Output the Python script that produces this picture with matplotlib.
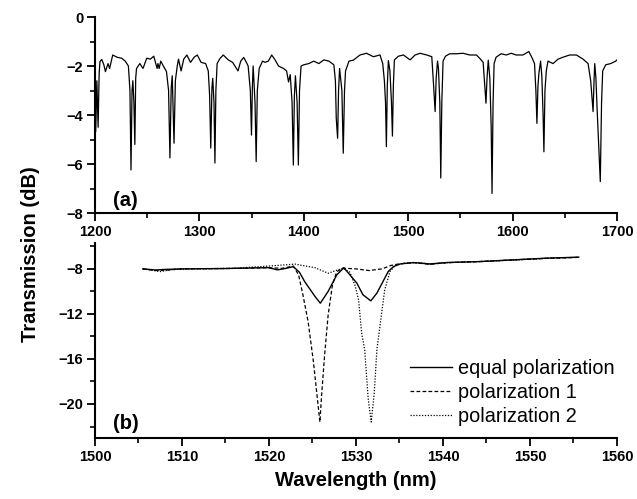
import matplotlib
matplotlib.use("Agg")
import matplotlib.pyplot as plt
from matplotlib.ticker import MultipleLocator

plt.rcParams['font.family'] = ['Liberation Sans', 'DejaVu Sans']

# ---------------- panel (a): broadband transmission ----------------
wl_a = [1200.0, 1200.7, 1201.8, 1203.0, 1204.0, 1204.8, 1206.5, 1208.5, 1210.0, 1212.5,
        1214.0, 1217.0, 1221.0, 1225.5, 1229.0, 1232.0, 1233.5, 1234.5, 1235.5, 1236.3,
        1237.3, 1238.2, 1239.0, 1239.8, 1243.0, 1246.0, 1249.6, 1253.0, 1256.3, 1259.5,
        1260.3, 1261.5, 1263.0, 1265.5, 1268.5, 1270.5, 1271.8, 1273.0, 1274.0, 1275.7,
        1277.0, 1278.8, 1280.0, 1282.5, 1285.0, 1288.0, 1291.5, 1295.0, 1298.0, 1301.6,
        1306.0, 1308.5, 1309.8, 1310.9, 1312.0, 1312.8, 1314.0, 1314.9, 1315.8, 1317.0,
        1319.6, 1322.9, 1327.7, 1331.8, 1334.0, 1337.0, 1339.6, 1342.5, 1345.0, 1346.7,
        1348.8, 1349.9, 1350.8, 1351.5, 1353.3, 1354.4, 1355.5, 1357.3, 1360.5, 1363.0,
        1366.0, 1369.3, 1372.5, 1375.8, 1380.6, 1383.5, 1385.4, 1387.0, 1388.8, 1390.0,
        1391.0, 1392.0, 1393.6, 1394.8, 1395.9, 1397.4, 1400.0, 1404.8, 1409.6, 1414.4,
        1419.2, 1424.0, 1428.8, 1430.3, 1431.1, 1432.4, 1433.3, 1434.3, 1436.5, 1437.8,
        1439.0, 1440.0, 1443.3, 1447.5, 1453.8, 1460.2, 1466.6, 1473.0, 1475.6, 1477.2,
        1478.3, 1479.1, 1480.0, 1481.0, 1482.5, 1484.0, 1484.9, 1485.8, 1486.8, 1490.6,
        1495.4, 1501.8, 1506.6, 1511.4, 1517.8, 1522.6, 1524.2, 1525.8, 1526.8, 1528.1,
        1529.0, 1530.3, 1531.2, 1532.2, 1533.4, 1535.7, 1539.8, 1546.2, 1552.6, 1559.0,
        1565.4, 1568.8, 1571.8, 1573.6, 1574.5, 1575.5, 1576.7, 1578.2, 1579.5, 1580.3,
        1581.3, 1582.3, 1584.2, 1589.0, 1594.0, 1598.6, 1603.4, 1609.8, 1615.6, 1618.8,
        1621.0, 1622.3, 1623.3, 1624.3, 1625.2, 1626.8, 1628.0, 1629.2, 1630.0, 1631.0,
        1632.3, 1633.9, 1638.7, 1643.5, 1648.3, 1654.7, 1661.1, 1667.5, 1672.3, 1674.8,
        1677.1, 1678.0, 1678.7, 1679.8, 1681.0, 1684.0, 1685.2, 1686.3, 1689.2, 1694.0,
        1698.8, 1699.7]
tr_a = [-2.40, -4.68, -2.60, -4.50, -2.30, -1.82, -1.73, -1.95, -2.23, -1.90,
        -2.10, -1.55, -1.64, -1.68, -1.80, -2.00, -3.00, -6.24, -3.00, -2.60,
        -3.50, -5.20, -2.50, -2.10, -1.90, -2.10, -1.68, -1.72, -1.60, -2.10,
        -1.90, -2.10, -1.80, -2.00, -2.23, -3.00, -5.75, -2.90, -2.40, -5.15,
        -2.60, -2.00, -1.72, -2.20, -1.72, -1.55, -1.85, -1.64, -1.55, -1.85,
        -1.90, -2.20, -3.20, -5.35, -2.90, -2.50, -3.50, -5.96, -3.00, -1.90,
        -1.70, -1.55, -1.75, -1.85, -2.00, -2.20, -1.80, -1.65, -1.85, -2.00,
        -3.00, -4.82, -2.80, -2.00, -3.50, -5.90, -3.00, -2.10, -1.80, -1.85,
        -1.80, -1.55, -1.75, -2.00, -2.10, -2.20, -2.65, -2.35, -3.50, -6.04,
        -3.20, -2.40, -3.50, -6.04, -3.00, -2.00, -1.95, -1.90, -1.80, -1.90,
        -1.75, -1.80, -1.95, -2.60, -4.13, -4.95, -3.00, -2.10, -3.00, -5.56,
        -3.00, -2.20, -1.80, -1.76, -1.55, -1.48, -1.62, -1.55, -1.90, -2.60,
        -3.50, -5.29, -2.80, -1.78, -2.20, -3.50, -4.86, -2.80, -1.75, -1.60,
        -1.55, -1.75, -1.55, -1.48, -1.55, -1.62, -2.70, -3.86, -2.50, -1.80,
        -2.10, -3.50, -6.57, -3.50, -1.80, -1.60, -1.50, -1.50, -1.48, -1.55,
        -1.55, -1.70, -1.85, -3.00, -3.52, -2.50, -1.76, -2.50, -4.50, -7.20,
        -3.50, -1.90, -1.64, -1.50, -1.55, -1.48, -1.55, -1.55, -1.41, -1.68,
        -1.90, -3.00, -4.34, -2.80, -2.30, -1.80, -2.40, -4.00, -5.50, -3.00,
        -2.20, -1.80, -1.90, -1.72, -1.64, -1.55, -1.55, -1.72, -1.90, -2.60,
        -3.86, -2.60, -1.90, -2.50, -3.80, -6.72, -3.50, -2.20, -1.95, -1.90,
        -1.80, -1.76]

# ---------------- panel (b): zoom around 1530 nm ----------------
wl_eq = [1505.5, 1507.0, 1508.0, 1510.0, 1515.0, 1519.9, 1521.0, 1522.0, 1522.8, 1523.5,
         1524.1, 1525.3, 1525.9, 1526.8, 1527.8, 1528.6, 1529.3, 1530.1, 1530.8, 1531.7,
         1532.4, 1533.1, 1533.7, 1534.3, 1535.1, 1536.6, 1538.5, 1540.4, 1544.3, 1548.1,
         1551.9, 1555.6]
tr_eq = [-8.00, -8.10, -8.05, -8.00, -7.97, -7.89, -8.09, -7.95, -7.80, -8.30,
         -9.13, -10.46, -11.05, -10.00, -8.53, -7.90, -8.53, -9.27, -10.30, -10.84,
         -10.16, -9.13, -8.24, -7.80, -7.56, -7.44, -7.56, -7.44, -7.35, -7.20,
         -7.05, -6.96]

wl_p1 = [1505.5, 1507.0, 1508.5, 1510.0, 1515.0, 1520.0, 1521.5, 1522.8, 1523.4, 1523.9,
         1524.5, 1525.1, 1525.6, 1525.85, 1526.05, 1526.4, 1526.8, 1527.3, 1527.8, 1528.5,
         1530.0, 1531.5, 1533.0, 1534.0, 1535.0, 1536.6, 1538.5, 1540.4, 1544.3, 1548.1,
         1551.9, 1555.6]
tr_p1 = [-8.00, -8.15, -8.10, -8.00, -7.97, -7.90, -7.95, -7.75, -8.53, -10.30,
         -12.70, -16.20, -19.80, -21.60, -19.20, -15.60, -12.10, -9.40, -8.24, -7.94,
         -8.00, -8.15, -8.00, -7.70, -7.55, -7.44, -7.60, -7.45, -7.35, -7.20,
         -7.07, -6.98]

wl_p2 = [1505.5, 1507.5, 1509.0, 1512.0, 1516.0, 1520.0, 1523.0, 1525.3, 1526.8, 1527.5,
         1528.5, 1529.3, 1529.9, 1530.3, 1530.65, 1531.0, 1531.4, 1531.75, 1532.1, 1532.4,
         1532.8, 1533.3, 1533.9, 1534.5, 1535.5, 1537.0, 1538.5, 1540.4, 1544.3, 1548.1,
         1551.9, 1555.6]
tr_p2 = [-8.00, -8.24, -8.05, -8.00, -7.95, -7.75, -7.58, -7.90, -8.39, -8.20,
         -7.94, -8.30, -9.50, -10.76, -13.70, -15.20, -19.50, -21.60, -19.00, -15.20,
         -12.80, -9.87, -8.24, -7.70, -7.50, -7.45, -7.58, -7.45, -7.35, -7.22,
         -7.06, -6.97]

legend_labels = ["equal polarization", "polarization 1", "polarization 2"]

fig = plt.figure(figsize=(6.37, 4.99), dpi=100)
ax_a = fig.add_axes([0.1491, 0.5731, 0.8195, 0.3928])
ax_b = fig.add_axes([0.1491, 0.1227, 0.8195, 0.3904])

ax_a.plot(wl_a, tr_a, color='black', lw=0.9)
ax_a.set_xlim(1200, 1700)
ax_a.set_ylim(-8, 0)
ax_a.xaxis.set_major_locator(MultipleLocator(100))
ax_a.xaxis.set_minor_locator(MultipleLocator(50))
ax_a.yaxis.set_major_locator(MultipleLocator(2))
ax_a.yaxis.set_minor_locator(MultipleLocator(1))
ax_a.text(0.034, 0.066, "(a)", transform=ax_a.transAxes, fontsize=14.5,
          fontweight='bold', va='center', ha='left')

l1, = ax_b.plot(wl_eq, tr_eq, color='black', lw=1.0, ls='-')
l2, = ax_b.plot(wl_p1, tr_p1, color='black', lw=0.9, ls=(0, (3.0, 1.8)))
l3, = ax_b.plot(wl_p2, tr_p2, color='black', lw=0.9, ls=(0, (1.0, 1.3)))
ax_b.set_xlim(1500, 1560)
ax_b.set_ylim(-23, -5.7)
ax_b.xaxis.set_major_locator(MultipleLocator(10))
ax_b.xaxis.set_minor_locator(MultipleLocator(5))
ax_b.yaxis.set_major_locator(MultipleLocator(4))
ax_b.yaxis.set_minor_locator(MultipleLocator(2))
ax_b.set_yticks([-8, -12, -16, -20])
ax_b.text(0.034, 0.073, "(b)", transform=ax_b.transAxes, fontsize=14.5,
          fontweight='bold', va='center', ha='left')

leg = ax_b.legend([l1, l2, l3], legend_labels, loc='upper left',
                  bbox_to_anchor=(0.603, 0.405), frameon=False, fontsize=14.3,
                  handlelength=2.15, handletextpad=0.3, labelspacing=0.25,
                  borderpad=0, borderaxespad=0)

for ax in (ax_a, ax_b):
    for s in ('top', 'right'):
        ax.spines[s].set_visible(False)
    for s in ('left', 'bottom'):
        ax.spines[s].set_linewidth(1.5)
    ax.tick_params(which='major', direction='out', length=6, width=1.3,
                   labelsize=10.5, pad=2.5)
    ax.tick_params(which='minor', direction='out', length=3.5, width=1.2)
    for lab in ax.get_xticklabels() + ax.get_yticklabels():
        lab.set_fontweight('bold')

fig.text(0.048, 0.49, "Transmission (dB)", rotation=90, fontsize=14.5,
         fontweight='bold', va='center', ha='center')
fig.text(0.5585, 0.038, "Wavelength (nm)", fontsize=14.5,
         fontweight='bold', va='center', ha='center')

fig.savefig("out.png", dpi=100)
